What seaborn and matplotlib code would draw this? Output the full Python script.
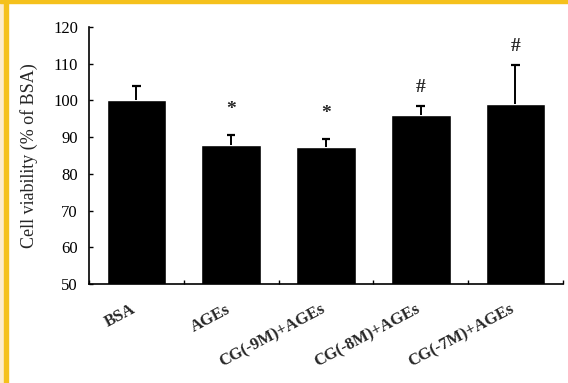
import matplotlib
matplotlib.use("Agg")
import matplotlib.pyplot as plt
import seaborn as sns
import numpy as np
from matplotlib.patches import Rectangle

# data
groups = ["BSA", "AGEs", "CG(-9M)+AGEs", "CG(-8M)+AGEs", "CG(-7M)+AGEs"]
viability = [100.0, 87.8, 87.3, 96.0, 99.0]
sem = [4.0, 2.8, 2.1, 2.4, 10.7]
marks = ["", "*", "*", "#", "#"]
yticks = [50, 60, 70, 80, 90, 100, 110, 120]

sns.set_style("ticks")
plt.rcParams["font.family"] = ["Liberation Serif", "DejaVu Serif"]

fig = plt.figure(figsize=(5.68, 3.83), dpi=100)
ax = fig.add_axes([0.1567, 0.2585, 0.8343, 0.671])

sns.barplot(x=groups, y=viability, color="black", width=0.63,
            errorbar=None, saturation=1, ax=ax)
x = np.arange(len(groups))
tops = np.array(viability) + np.array(sem)
# upper error bars only
ax.vlines(x, viability, tops, color="black", lw=1.4, zorder=3)
ax.hlines(tops, x - 0.045, x + 0.045, color="black", lw=1.6, zorder=3)

# significance marks above the error bars
for xi, t, m in zip(x, tops, marks):
    if m:
        ax.text(xi, t + (7 if m == "*" else 5), m, ha="center", va="center",
                fontsize=14, fontweight="bold")

ax.set_ylim(50, 120)
ax.set_xlim(-0.5, len(groups) - 0.5)
ax.set_yticks(yticks)
ax.set_yticklabels([str(t) for t in yticks], fontsize=12)
ax.set_xticks(np.arange(len(groups) + 1) - 0.5)
ax.set_xticklabels([])
ax.tick_params(axis="both", direction="in", length=3, width=1, colors="black")
ax.tick_params(axis="y", pad=8)
for xi, g in zip(x, groups):
    ax.text(xi - 0.06, 45.3, g, rotation=28, ha="right", va="top",
            fontsize=12, fontweight="bold", rotation_mode="anchor")

ax.set_ylabel("Cell viability (% of BSA)", fontsize=13, labelpad=11)
sns.despine(ax=ax)
for s in ["left", "bottom"]:
    ax.spines[s].set_linewidth(1.2)
    ax.spines[s].set_color("black")

# yellow frame on left and top
fig.patches.append(Rectangle((0, 0), 4 / 568, 1, transform=fig.transFigure,
                             color="#fdeccb", zorder=0))
fig.patches.append(Rectangle((4 / 568, 0), 3.5 / 568, 1, transform=fig.transFigure,
                             color="#f5c11c", zorder=0))
fig.patches.append(Rectangle((0, 1 - 2.5 / 383), 1, 2.5 / 383, transform=fig.transFigure,
                             color="#f5c11c", zorder=0))

fig.savefig("out.png", dpi=100)
